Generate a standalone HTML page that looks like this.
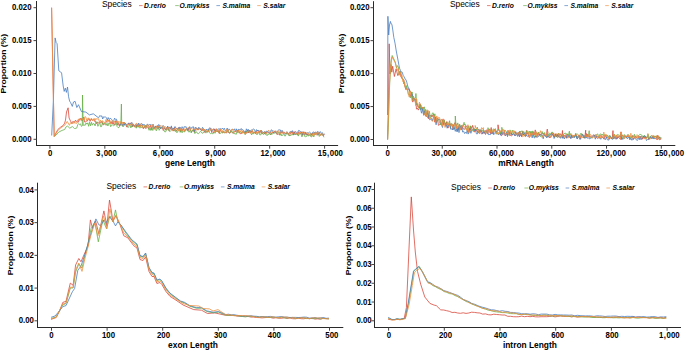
<!DOCTYPE html>
<html><head><meta charset="utf-8"><style>
html,body{margin:0;padding:0;background:#fff;}
body{width:685px;height:351px;overflow:hidden;}
svg{display:block;font-family:"Liberation Sans",sans-serif;}
</style></head><body>
<svg width="685" height="351" viewBox="0 0 685 351">
<rect width="685" height="351" fill="#fff"/>
<polyline points="51.6,7.7 54.2,136.4 57.8,129.5 60.8,127.0 63.0,125.7 64.7,123.1 65.5,120.1 66.5,112.0 68.1,107.8 69.1,118.0 70.0,120.0 70.9,121.8 71.8,123.6 72.7,121.5 73.7,121.8 74.6,122.2 75.5,120.1 76.4,121.5 77.3,121.8 78.2,122.4 79.2,118.8 80.1,119.6 81.0,118.0 81.9,120.9 82.8,120.0 83.7,117.2 84.6,121.9 85.6,122.1 86.5,120.9 87.4,121.0 88.3,119.1 89.2,118.6 90.1,121.4 91.0,119.2 92.0,119.9 92.9,120.3 93.8,119.4 94.7,121.5 95.6,121.5 96.5,123.6 97.5,122.1 98.4,122.8 99.3,122.2 100.2,123.1 101.1,122.1 102.0,121.2 102.9,124.6 103.9,124.6 104.8,123.8 105.7,123.1 106.6,121.2 107.5,120.8 108.4,121.0 109.3,120.0 110.3,123.3 111.2,121.7 112.1,124.0 113.0,121.9 113.9,124.8 114.8,124.5 115.8,120.5 116.7,121.7 117.6,125.2 118.5,123.4 119.4,126.2 120.3,123.7 121.2,122.3 122.2,125.0 123.1,125.8 124.0,123.5 124.9,122.7 125.8,124.0 126.7,127.1 127.6,126.2 128.6,123.2 129.5,123.9 130.4,123.3 131.3,123.2 132.2,126.8 133.1,124.0 134.1,125.9 135.0,125.4 135.9,124.3 136.8,127.0 137.7,124.2 138.6,126.8 139.5,124.3 140.5,125.9 141.4,124.9 142.3,125.3 143.2,128.7 144.1,128.0 145.0,125.7 145.9,128.6 146.9,125.4 147.8,126.4 148.7,128.7 149.6,127.7 150.5,125.2 151.4,129.6 152.4,125.9 153.3,126.2 154.2,128.8 155.1,126.7 156.0,126.7 156.9,125.7 157.8,125.8 158.8,128.3 159.7,126.7 160.6,128.5 161.5,127.5 162.4,128.0 163.3,130.5 164.2,128.2 165.2,128.7 166.1,130.2 167.0,127.0 167.9,126.9 168.8,130.6 169.7,130.3 170.7,127.6 171.6,127.4 172.5,130.1 173.4,131.1 174.3,127.6 175.2,131.3 176.1,131.0 177.1,129.8 178.0,129.0 178.9,127.5 179.8,127.3 180.7,131.8 181.6,128.3 182.5,130.6 183.5,128.5 184.4,131.3 185.3,130.2 186.2,128.8 187.1,128.3 188.0,131.0 188.9,127.9 189.9,128.7 190.8,130.3 191.7,131.8 192.6,130.7 193.5,129.1 194.4,132.2 195.4,128.8 196.3,128.0 197.2,129.3 198.1,130.1 199.0,128.3 199.9,128.9 200.8,130.0 201.8,130.9 202.7,129.0 203.6,130.0 204.5,132.3 205.4,132.7 206.3,131.3 207.2,131.5 208.2,131.1 209.1,129.3 210.0,128.8 210.9,128.8 211.8,132.6 212.7,131.7 213.7,132.9 214.6,128.9 215.5,131.5 216.4,130.9 217.3,132.0 218.2,130.3 219.1,133.2 220.1,129.3 221.0,131.3 221.9,132.2 222.8,132.9 223.7,132.2 224.6,132.1 225.5,132.5 226.5,133.0 227.4,130.7 228.3,132.1 229.2,133.1 230.1,133.0 231.0,131.1 232.0,132.7 232.9,133.0 233.8,131.8 234.7,132.1 235.6,131.1 236.5,131.9 237.4,132.1 238.4,129.9 239.3,132.3 240.2,133.8 241.1,133.3 242.0,132.7 242.9,131.3 243.8,132.8 244.8,132.2 245.7,131.6 246.6,133.3 247.5,130.2 248.4,133.0 249.3,130.0 250.3,132.5 251.2,132.0 252.1,131.0 253.0,132.9 253.9,132.1 254.8,132.7 255.7,134.0 256.7,131.2 257.6,130.2 258.5,131.5 259.4,133.1 260.3,131.1 261.2,131.0 262.1,134.1 263.1,133.1 264.0,132.2 264.9,134.1 265.8,131.8 266.7,133.3 267.6,131.3 268.6,132.3 269.5,133.9 270.4,134.4 271.3,134.3 272.2,132.3 273.1,133.1 274.0,132.1 275.0,131.3 275.9,132.9 276.8,134.3 277.7,134.4 278.6,133.9 279.5,134.9 280.4,132.1 281.4,131.7 282.3,132.9 283.2,132.2 284.1,132.0 285.0,132.9 285.9,133.8 286.9,133.3 287.8,132.6 288.7,134.8 289.6,135.4 290.5,133.2 291.4,131.7 292.3,131.5 293.3,135.1 294.2,131.6 295.1,134.5 296.0,133.9 296.9,132.9 297.8,134.9 298.8,131.7 299.7,132.2 300.6,133.6 301.5,131.8 302.4,135.3 303.3,132.8 304.2,132.4 305.2,132.1 306.1,134.6 307.0,133.8 307.9,134.6 308.8,134.8 309.7,135.4 310.6,136.1 311.6,135.0 312.5,133.0 313.4,134.2 314.3,133.0 315.2,132.3 316.1,134.3 317.1,135.3 318.0,133.1 318.9,133.5 319.8,133.9 320.7,135.4 321.6,134.7 322.5,135.1 323.5,135.7 324.4,134.2" fill="none" stroke="#D8493C" stroke-width="0.8" stroke-linejoin="round"/>
<polyline points="54.2,136.4 56.1,135.1 58.7,132.1 62.1,130.4 64.7,129.5 65.9,127.0 67.6,126.1 69.8,128.2 72.4,126.5 74.5,128.7 75.0,128.2 75.9,128.5 76.8,127.9 77.7,124.8 78.7,123.6 79.6,124.7 80.5,123.9 81.4,126.4 82.3,125.8 82.5,95.0 83.2,125.3 84.2,125.0 85.1,125.4 86.0,122.9 86.9,124.2 87.8,122.8 88.7,126.3 89.6,122.2 90.6,125.8 91.5,122.3 92.4,125.2 93.3,123.5 94.2,123.8 95.1,125.9 96.0,122.0 97.0,122.2 97.9,126.3 98.8,124.3 99.7,122.3 100.6,126.7 101.5,126.6 102.5,122.7 103.4,124.2 104.3,122.9 105.2,123.9 106.1,125.4 107.0,123.3 107.9,126.0 108.9,122.9 109.8,123.6 110.7,126.7 111.6,124.8 112.5,124.9 113.4,125.7 114.3,125.2 115.3,124.8 116.2,123.1 117.1,126.5 118.0,127.6 118.9,127.6 119.8,126.1 120.8,124.7 121.4,104.0 121.7,124.8 122.6,126.5 123.5,126.5 124.4,123.9 125.3,124.6 126.2,125.3 127.2,126.1 128.1,127.6 129.0,126.2 129.9,124.0 130.8,127.9 131.7,126.1 132.6,126.7 133.6,125.3 134.5,126.4 135.4,126.3 136.3,128.2 137.2,125.1 138.1,127.4 139.1,125.7 140.0,128.2 140.9,125.2 141.8,126.4 142.7,126.8 143.6,128.3 144.5,125.6 145.5,127.6 146.4,126.5 147.3,126.9 148.2,127.9 149.1,130.3 150.0,128.1 150.9,130.5 151.9,126.8 152.8,130.5 153.7,127.9 154.6,127.1 155.5,129.9 156.4,130.8 157.4,126.5 158.3,127.8 159.2,130.3 160.1,128.3 161.0,127.9 161.9,126.9 162.8,127.1 163.8,130.0 164.7,131.8 165.6,131.9 166.5,129.6 167.4,127.4 168.3,128.9 169.2,131.2 170.2,131.5 171.1,130.6 172.0,128.7 172.9,130.2 173.8,130.0 174.7,130.8 175.6,129.1 176.6,132.5 177.5,132.3 178.4,128.9 179.3,129.5 180.2,132.4 181.1,129.6 182.1,132.8 183.0,130.8 183.9,131.7 184.8,131.8 185.7,129.5 186.6,129.9 187.5,129.8 188.5,131.9 189.4,132.0 190.3,129.3 191.2,133.0 192.1,130.8 193.0,130.0 193.9,131.0 194.9,133.6 195.8,131.7 196.7,132.0 197.6,133.5 198.5,133.7 199.4,132.8 200.4,131.3 201.3,132.0 202.2,133.3 203.1,132.9 204.0,132.1 204.9,131.1 205.8,131.2 206.8,132.8 207.7,132.1 208.6,129.8 209.5,132.8 210.4,133.6 211.3,133.2 212.2,133.6 213.2,133.7 214.1,132.2 215.0,133.3 215.9,131.6 216.8,130.4 217.7,131.5 218.7,131.4 219.6,134.0 220.5,133.0 221.4,132.4 222.3,132.8 223.2,130.7 224.1,132.5 225.1,133.2 226.0,131.9 226.9,131.3 227.8,132.0 228.7,131.7 229.6,133.3 230.5,131.0 231.5,130.8 232.4,131.8 233.3,133.4 234.2,133.7 235.1,133.3 236.0,134.5 237.0,132.1 237.9,130.8 238.8,132.7 239.7,132.6 240.6,131.5 241.5,133.6 242.4,132.2 243.4,131.8 244.3,132.2 245.2,134.8 246.1,130.9 247.0,132.4 247.9,132.1 248.8,131.8 249.8,132.8 250.7,132.0 251.6,134.9 252.5,133.2 253.4,134.1 254.3,131.8 255.3,133.1 256.2,133.8 257.1,134.8 258.0,132.3 258.9,133.2 259.8,134.9 260.7,134.9 261.7,132.3 262.6,133.7 263.5,134.6 264.4,133.1 265.3,134.3 266.2,134.3 267.1,135.7 268.1,133.9 269.0,134.5 269.9,133.2 270.8,134.8 271.7,133.1 272.6,133.9 273.6,133.3 274.5,133.1 275.4,132.5 276.3,132.9 277.2,134.2 278.1,133.0 279.0,132.2 280.0,135.4 280.9,133.3 281.8,136.0 282.7,134.7 283.6,133.8 284.5,135.9 285.4,136.0 286.4,133.6 287.3,132.8 288.2,135.0 289.1,135.9 290.0,135.0 290.9,135.7 291.9,134.2 292.8,135.1 293.7,133.7 294.6,134.3 295.5,134.2 296.4,134.3 297.3,134.4 298.3,136.1 299.2,133.5 300.1,133.7 301.0,133.9 301.9,136.9 302.8,135.1 303.8,133.1 304.7,136.5 305.6,136.7 306.5,136.5 307.4,134.6 308.3,136.2 309.2,134.4 310.2,133.7 311.1,136.8 312.0,136.7 312.9,134.2 313.8,137.0 314.7,133.4 315.6,134.7 316.6,133.5 317.5,134.2 318.4,134.2 319.3,136.5 320.2,134.8 321.1,134.4 322.1,134.4 323.0,134.9 323.9,137.3" fill="none" stroke="#66B046" stroke-width="0.8" stroke-linejoin="round"/>
<polyline points="51.7,135.5 53.4,100.0 55.1,37.9 56.2,42.7 57.1,43.7 58.8,70.8 60.6,71.9 61.6,73.0 63.2,86.0 64.2,91.4 65.3,88.1 66.4,92.4 67.5,87.0 68.6,96.8 69.6,101.1 70.5,102.4 72.3,106.4 73.5,102.0 75.1,101.3 76.8,107.5 78.5,104.7 81.4,111.5 85.9,112.1 89.4,114.9 93.3,113.8 98.5,117.8 100.0,115.4 100.9,116.6 101.8,115.8 102.7,119.0 103.7,116.7 104.6,117.1 105.5,117.0 106.4,117.6 107.3,120.2 108.2,117.5 109.2,119.6 110.1,118.2 111.0,118.8 111.9,119.6 112.8,121.7 113.7,120.8 114.6,118.1 115.6,119.5 116.5,119.2 117.4,123.1 118.3,123.2 119.2,123.9 120.1,124.6 121.0,124.3 122.0,125.4 122.9,124.7 123.8,122.2 124.7,125.2 125.6,123.5 126.5,124.9 127.5,124.1 128.4,123.5 129.3,123.3 130.2,123.7 131.1,123.2 132.0,122.4 132.9,125.8 133.9,125.8 134.8,126.8 135.7,125.5 136.6,124.9 137.5,125.9 138.4,123.1 139.3,125.8 140.3,124.8 141.2,123.6 142.1,123.8 143.0,125.4 143.9,124.2 144.8,125.2 145.8,126.0 146.7,125.1 147.6,123.9 148.5,125.7 149.4,124.6 150.3,124.7 151.2,124.5 152.2,125.5 153.1,124.1 154.0,127.0 154.9,128.5 155.8,125.9 156.7,127.6 157.6,128.7 158.6,124.5 159.5,125.0 160.4,128.3 161.3,128.5 162.2,127.6 163.1,125.4 164.0,126.7 165.0,128.9 165.9,129.1 166.8,128.8 167.7,126.0 168.6,129.1 169.5,126.9 170.5,128.6 171.4,125.9 172.3,130.0 173.2,128.3 174.1,128.9 175.0,126.5 175.9,128.6 176.9,128.5 177.8,128.6 178.7,127.5 179.6,129.4 180.5,127.6 181.4,127.4 182.3,126.8 183.3,129.3 184.2,126.6 185.1,127.2 186.0,126.5 186.9,129.3 187.8,129.0 188.8,128.9 189.7,126.6 190.6,128.5 191.5,128.1 192.4,127.0 193.3,126.6 194.2,131.4 195.2,127.2 196.1,128.2 197.0,128.0 197.9,129.7 198.8,127.2 199.7,129.1 200.6,128.8 201.6,130.8 202.5,127.3 203.4,128.7 204.3,129.4 205.2,131.4 206.1,129.6 207.1,129.4 208.0,130.3 208.9,128.7 209.8,127.6 210.7,129.6 211.6,131.4 212.5,130.7 213.5,128.7 214.4,130.5 215.3,131.2 216.2,128.8 217.1,130.2 218.0,129.2 218.9,128.8 219.9,129.0 220.8,128.7 221.7,129.3 222.6,128.0 223.5,129.6 224.4,128.3 225.4,131.1 226.3,130.5 227.2,128.0 228.1,131.3 229.0,128.9 229.9,130.1 230.8,130.5 231.8,129.6 232.7,129.4 233.6,130.0 234.5,128.8 235.4,131.9 236.3,128.8 237.2,131.8 238.2,129.3 239.1,129.6 240.0,130.0 240.9,128.6 241.8,129.0 242.7,130.0 243.7,130.4 244.6,132.2 245.5,132.7 246.4,128.8 247.3,130.9 248.2,129.2 249.1,132.1 250.1,130.1 251.0,132.5 251.9,131.1 252.8,129.3 253.7,128.9 254.6,129.9 255.5,132.5 256.5,129.6 257.4,131.0 258.3,130.5 259.2,130.5 260.1,132.4 261.0,130.0 262.0,132.1 262.9,131.9 263.8,133.1 264.7,131.4 265.6,133.1 266.5,131.1 267.4,131.7 268.4,131.9 269.3,132.9 270.2,133.2 271.1,129.9 272.0,130.0 272.9,131.7 273.8,132.9 274.8,131.8 275.7,130.8 276.6,133.7 277.5,130.9 278.4,130.1 279.3,129.9 280.3,129.9 281.2,132.8 282.1,130.3 283.0,132.9 283.9,133.5 284.8,134.1 285.7,133.4 286.7,131.8 287.6,132.6 288.5,133.6 289.4,133.1 290.3,131.3 291.2,133.4 292.1,130.7 293.1,131.5 294.0,134.4 294.9,132.3 295.8,131.5 296.7,133.7 297.6,132.3 298.6,130.4 299.5,130.6 300.4,131.6 301.3,131.9 302.2,134.5 303.1,131.6 304.0,134.2 305.0,134.3 305.9,132.5 306.8,134.9 307.7,134.0 308.6,132.8 309.5,131.9 310.5,132.8 311.4,134.7 312.3,133.2 313.2,131.8 314.1,132.6 315.0,133.0 315.9,131.9 316.9,133.5 317.8,131.3 318.7,134.6 319.6,132.0 320.5,131.7 321.4,133.8 322.3,132.6 323.3,135.1 324.2,133.5" fill="none" stroke="#4A7DBF" stroke-width="0.8" stroke-linejoin="round"/>
<polyline points="51.6,7.7 54.2,136.4 57.8,130.8 60.8,127.8 63.4,126.1 65.5,124.4 67.2,121.4 69.4,125.3 70.6,122.7 73.2,123.5 74.0,121.1 74.9,123.5 75.8,122.7 76.7,123.5 77.7,119.8 78.6,119.2 79.5,120.9 80.4,120.2 81.3,118.2 82.2,119.8 83.2,118.2 84.1,119.9 85.0,116.5 85.9,117.2 86.8,120.7 87.7,118.3 88.6,118.0 89.6,120.9 90.5,120.2 91.4,118.0 92.3,120.0 93.2,120.6 94.1,118.3 95.0,120.8 96.0,118.3 96.9,119.5 97.8,118.4 98.7,119.0 99.6,122.9 100.5,120.2 101.5,123.1 102.4,120.6 103.3,121.5 104.2,122.9 105.1,122.1 106.0,119.5 106.9,121.9 107.9,122.2 108.8,120.1 109.7,119.8 110.6,123.7 111.5,122.1 112.4,120.6 113.3,122.0 114.3,121.0 115.2,123.9 116.1,122.6 117.0,120.8 117.9,124.3 118.8,121.2 119.8,122.5 120.7,121.5 121.6,125.0 122.5,122.1 123.4,124.2 124.3,122.2 125.2,124.1 126.2,125.2 127.1,124.6 128.0,124.3 128.9,124.5 129.8,124.4 130.7,125.2 131.6,122.9 132.6,124.8 133.5,123.8 134.4,126.9 135.3,127.3 136.2,123.2 137.1,123.7 138.1,126.5 139.0,125.9 139.9,123.4 140.8,126.8 141.7,128.0 142.6,125.6 143.5,125.3 144.5,126.4 145.4,128.3 146.3,125.1 147.2,125.4 148.1,124.9 149.0,127.1 149.9,126.4 150.9,125.5 151.8,126.2 152.7,124.6 153.6,126.0 154.5,129.3 155.4,127.5 156.4,126.1 157.3,129.3 158.2,126.7 159.1,126.2 160.0,125.3 160.9,125.9 161.8,126.2 162.8,126.4 163.7,129.6 164.6,126.7 165.5,126.7 166.4,128.5 167.3,130.1 168.2,127.1 169.2,129.4 170.1,127.6 171.0,128.6 171.9,128.9 172.8,130.6 173.7,129.8 174.6,128.6 175.6,130.3 176.5,128.1 177.4,128.2 178.3,131.1 179.2,129.2 180.1,130.3 181.1,128.2 182.0,131.1 182.9,129.7 183.8,128.0 184.7,131.3 185.6,129.1 186.5,128.6 187.5,128.2 188.4,127.5 189.3,128.0 190.2,130.4 191.1,127.8 192.0,128.4 192.9,129.4 193.9,129.9 194.8,129.2 195.7,131.2 196.6,128.7 197.5,129.2 198.4,129.6 199.4,128.2 200.3,128.8 201.2,128.6 202.1,131.0 203.0,128.6 203.9,130.8 204.8,129.0 205.8,130.8 206.7,130.9 207.6,129.6 208.5,132.1 209.4,130.9 210.3,130.6 211.2,128.4 212.2,130.0 213.1,129.4 214.0,130.3 214.9,132.3 215.8,132.0 216.7,128.7 217.7,131.3 218.6,132.4 219.5,130.8 220.4,128.9 221.3,132.2 222.2,130.4 223.1,132.7 224.1,132.3 225.0,132.1 225.9,132.6 226.8,129.0 227.7,132.1 228.6,130.0 229.5,129.4 230.5,130.4 231.4,131.3 232.3,128.9 233.2,130.8 234.1,132.2 235.0,131.0 236.0,131.2 236.9,130.3 237.8,133.1 238.7,130.1 239.6,131.9 240.5,131.8 241.4,129.1 242.4,133.4 243.3,130.2 244.2,133.4 245.1,133.2 246.0,133.1 246.9,132.9 247.8,131.0 248.8,131.3 249.7,130.9 250.6,133.4 251.5,129.6 252.4,130.1 253.3,133.5 254.3,132.9 255.2,132.6 256.1,133.7 257.0,131.8 257.9,133.2 258.8,131.6 259.7,133.5 260.7,130.1 261.6,131.6 262.5,132.2 263.4,133.2 264.3,131.7 265.2,132.8 266.1,134.0 267.1,131.7 268.0,130.8 268.9,130.2 269.8,133.7 270.7,132.1 271.6,131.8 272.6,132.4 273.5,130.7 274.4,131.2 275.3,131.3 276.2,131.4 277.1,134.0 278.0,131.4 279.0,130.8 279.9,134.1 280.8,132.8 281.7,130.6 282.6,133.4 283.5,133.5 284.4,133.3 285.4,133.9 286.3,132.5 287.2,131.7 288.1,133.9 289.0,133.4 289.9,133.8 290.9,131.6 291.8,132.4 292.7,133.8 293.6,132.6 294.5,133.5 295.4,133.0 296.3,134.2 297.3,132.5 298.2,133.2 299.1,134.6 300.0,132.5 300.9,132.0 301.8,133.9 302.8,131.8 303.7,134.9 304.6,132.5 305.5,135.2 306.4,133.7 307.3,132.1 308.2,133.7 309.2,134.4 310.1,133.6 311.0,134.3 311.9,133.2 312.8,135.7 313.7,132.4 314.6,135.1 315.6,131.9 316.5,133.9 317.4,132.1 318.3,132.4 319.2,134.4 320.1,135.7 321.1,133.3 322.0,133.7 322.9,134.0 323.8,134.6" fill="none" stroke="#F0913E" stroke-width="0.8" stroke-linejoin="round"/>
<polyline points="387.6,139.5 388.5,100.0 389.2,43.8 390.0,74.0 391.0,64.5 391.8,72.2 392.7,66.2 394.4,76.5 396.1,68.8 397.8,75.6 399.5,72.2 400.0,71.3 400.9,76.5 401.8,78.2 402.7,79.4 403.7,79.8 404.6,85.3 405.5,88.5 406.4,87.8 407.3,89.8 408.2,89.3 409.2,88.7 410.1,93.7 411.0,97.3 411.9,94.2 412.8,102.1 413.7,98.3 414.6,99.6 415.6,99.1 416.5,109.2 417.4,108.1 418.3,110.1 419.2,108.5 420.1,103.9 421.0,107.4 422.0,109.7 422.9,107.0 423.8,115.4 424.7,110.8 425.6,109.6 426.5,116.5 427.5,110.8 428.4,118.7 429.3,114.9 430.2,116.4 431.1,115.1 432.0,117.0 432.9,114.8 433.9,114.0 434.8,122.2 435.7,117.0 436.6,122.6 437.5,117.9 438.4,125.3 439.3,125.0 440.3,124.0 441.2,124.4 442.1,123.1 442.7,119.5 443.0,124.8 443.9,119.5 444.8,123.1 445.8,126.3 446.7,121.6 447.6,127.7 448.5,127.7 449.4,124.2 450.3,124.0 451.2,125.0 452.2,124.7 453.1,129.8 454.0,125.1 454.9,122.5 455.8,123.3 456.7,128.5 457.6,130.9 458.6,127.2 459.5,127.4 460.4,128.1 461.3,129.9 462.2,125.8 463.1,129.1 464.1,128.8 465.0,129.5 465.9,126.1 466.8,126.1 467.7,127.7 468.6,132.5 469.5,128.0 470.5,129.9 470.7,126.3 471.4,128.3 472.3,127.2 472.6,125.4 473.2,127.1 474.1,131.8 475.0,131.7 475.9,129.4 476.9,131.4 477.8,131.5 478.7,133.0 479.6,133.5 480.5,130.3 481.4,133.9 482.4,133.8 483.3,131.6 484.2,133.5 485.1,131.2 486.0,130.6 486.9,129.9 487.8,133.8 488.8,129.6 489.7,129.1 490.6,133.6 491.2,127.5 491.5,133.5 492.4,131.8 493.3,134.0 494.2,129.4 495.2,130.7 496.1,131.0 497.0,131.9 497.9,130.5 498.0,124.8 498.8,130.0 499.7,131.6 500.7,135.1 501.6,135.7 502.5,134.3 503.4,132.8 504.3,131.6 505.2,135.9 506.1,133.4 507.1,134.7 508.0,130.5 508.9,131.7 509.8,135.6 510.7,135.4 511.6,136.0 512.5,134.3 513.5,133.3 514.4,134.3 515.3,136.0 516.2,132.8 517.1,134.2 518.0,132.7 519.0,135.7 519.9,131.2 520.8,135.3 521.7,136.9 522.6,131.4 523.5,134.9 524.4,135.2 525.4,136.5 526.3,135.0 526.8,130.3 527.2,133.1 528.1,134.0 529.0,137.4 529.9,137.1 530.8,132.5 531.8,132.3 532.7,132.4 533.6,132.0 534.5,134.6 535.3,129.9 535.4,132.8 536.3,137.2 537.3,136.0 538.2,132.9 539.1,135.4 540.0,134.1 540.9,135.2 541.8,133.6 542.7,133.3 543.7,133.4 544.6,134.6 545.5,136.6 546.4,135.7 547.3,129.1 547.3,132.7 548.2,136.7 549.1,137.7 550.1,137.2 551.0,137.3 551.9,132.6 552.8,135.4 553.7,133.0 554.6,137.3 555.6,133.7 556.5,137.0 557.4,134.3 558.3,137.0 559.2,134.7 560.1,133.6 561.0,135.3 562.0,135.0 562.5,130.5 562.9,137.9 563.8,135.0 564.7,136.0 565.6,136.3 566.5,138.2 567.4,134.1 568.4,136.6 569.3,136.1 570.2,137.3 571.1,138.4 572.0,135.3 572.9,137.2 573.9,136.4 574.8,136.5 575.7,134.2 576.6,137.8 577.5,138.6 578.4,135.7 579.3,135.5 580.3,138.8 581.2,134.5 582.1,134.4 583.0,134.4 583.9,138.0 584.8,137.8 585.7,130.2 585.7,136.3 586.3,133.5 586.7,137.1 587.6,134.3 588.5,137.3 589.4,136.4 590.3,136.7 591.2,136.1 592.1,136.2 593.1,135.4 594.0,134.6 594.9,136.5 595.8,135.6 596.7,137.8 597.6,138.4 598.6,137.9 599.5,136.7 600.4,135.6 601.3,136.4 602.2,136.9 603.1,137.6 604.0,139.2 605.0,135.0 605.9,136.9 606.8,137.0 607.7,138.1 608.6,138.9 609.5,138.4 610.4,137.7 611.4,138.3 612.3,137.9 613.0,130.6 613.2,138.8 614.1,138.1 615.0,138.0 615.9,135.9 616.9,139.1 617.8,136.6 618.7,137.7 619.6,138.7 620.5,139.4 621.0,131.8 621.4,139.6 622.3,134.9 623.3,136.3 624.2,136.4 625.1,136.7 626.0,135.6 626.9,137.6 627.8,135.3 628.7,136.4 629.7,139.5 630.6,138.5 631.5,137.2 632.4,135.5 633.3,139.6 634.2,138.4 635.2,136.0 636.1,136.6 637.0,138.1 637.9,138.3 638.8,136.3 639.7,139.7 640.6,136.6 641.6,136.3 642.5,139.2 643.4,135.9 644.3,138.4 645.2,136.1 646.1,138.0 647.0,136.5 648.0,137.0 648.9,139.7 649.8,137.5 650.7,137.3 651.6,138.2 652.5,136.6 653.5,136.1 654.4,137.1 655.3,136.6 656.2,136.2 657.1,140.0 658.0,135.5 658.9,139.3 659.9,139.9 660.8,138.8" fill="none" stroke="#D8493C" stroke-width="0.8" stroke-linejoin="round"/>
<polyline points="387.6,139.5 388.5,120.0 389.4,90.0 390.3,72.0 391.2,60.0 392.2,55.5 395.3,62.0 396.5,68.0 397.4,65.6 398.3,67.0 399.2,74.6 400.2,71.5 401.1,73.2 402.0,78.4 402.9,78.6 403.8,84.0 404.7,81.9 405.7,89.6 406.6,85.6 407.5,89.9 408.4,94.5 409.3,93.9 410.2,97.6 411.1,97.0 412.1,92.0 413.0,100.8 413.9,99.3 414.8,97.8 415.7,97.8 415.9,93.5 416.6,105.0 417.5,103.6 418.5,108.0 419.4,107.2 420.1,104.2 420.3,109.7 421.2,106.8 422.1,108.7 423.0,108.9 424.0,106.9 424.5,107.1 424.9,114.5 425.8,109.8 426.7,115.3 427.6,117.6 428.5,115.4 429.4,111.3 430.4,118.2 431.3,117.3 432.2,113.4 433.1,112.8 434.0,117.8 434.9,113.8 435.8,122.6 436.8,119.3 437.7,120.0 438.6,119.3 439.5,122.0 440.4,124.7 441.3,119.4 442.3,120.3 443.2,122.6 444.1,120.3 445.0,123.4 445.9,123.1 446.8,122.6 447.7,124.8 448.7,124.0 449.6,120.7 450.5,128.2 451.4,123.3 452.3,124.2 453.2,124.2 454.1,128.6 455.1,129.0 455.3,116.0 456.0,125.8 456.9,125.1 457.8,122.9 458.7,129.5 459.6,124.0 460.6,127.2 461.5,125.8 462.4,125.8 463.3,126.2 464.1,122.3 464.2,125.0 465.1,123.9 466.0,128.0 467.0,130.3 467.9,129.2 468.8,125.8 469.7,129.9 470.6,125.8 471.5,128.1 472.4,130.7 473.4,131.4 474.3,128.8 475.2,131.2 476.1,129.3 477.0,129.6 477.3,127.1 477.9,130.1 478.9,132.7 479.8,131.3 480.7,129.8 481.6,131.4 482.5,131.0 483.4,129.3 484.3,132.0 485.3,132.3 486.2,131.1 487.1,133.2 488.0,127.7 488.9,130.7 489.8,131.6 490.7,129.9 491.7,129.0 492.6,132.2 493.5,130.7 494.4,129.8 495.3,128.6 496.2,134.2 497.2,130.6 498.1,129.3 499.0,129.9 499.9,130.3 500.8,134.0 501.7,130.0 501.8,127.3 502.6,130.6 503.6,129.7 504.5,132.0 505.4,130.5 506.3,131.4 507.2,133.8 508.1,135.0 509.0,134.6 510.0,129.9 510.9,132.0 511.8,134.9 512.7,130.0 513.6,131.1 514.5,132.9 515.5,132.3 516.4,134.5 517.3,134.4 518.2,132.9 519.1,131.7 520.0,131.6 520.9,131.9 521.9,130.7 522.8,134.4 523.7,131.4 524.6,135.8 525.5,134.4 526.4,130.9 527.3,133.6 528.3,134.3 529.2,131.0 530.1,133.7 531.0,131.0 531.9,135.5 532.8,130.9 533.8,134.8 534.7,136.9 535.6,136.1 536.5,132.5 537.4,134.4 538.3,132.0 539.2,133.3 540.2,136.5 541.1,136.2 542.0,131.4 542.9,133.7 543.8,135.3 544.7,132.5 545.6,136.3 546.6,136.9 547.5,134.8 548.4,133.7 549.3,136.7 550.2,134.7 551.1,132.8 552.1,133.4 552.3,131.9 553.0,132.7 553.9,136.8 554.8,134.8 555.7,136.0 556.6,136.7 557.5,137.7 558.5,133.0 559.4,134.4 560.3,136.7 561.2,136.2 562.1,134.5 563.0,135.8 563.9,133.6 564.9,133.5 565.8,133.0 566.7,134.6 567.6,133.9 568.5,135.3 569.4,131.2 569.4,137.5 570.4,133.6 571.3,135.5 572.2,137.0 573.1,135.8 574.0,135.5 574.9,136.6 575.8,133.1 576.8,137.6 577.7,136.3 578.6,136.9 579.5,137.0 580.4,133.6 581.3,133.4 582.2,134.0 583.2,135.6 584.1,137.7 585.0,137.6 585.9,135.2 586.8,136.2 587.7,136.8 588.6,134.9 589.2,130.7 589.6,138.0 590.5,137.9 591.4,136.9 592.3,137.7 593.2,137.3 594.1,136.6 595.1,135.0 596.0,134.8 596.9,134.7 597.8,133.8 598.7,138.0 599.6,135.0 600.5,133.7 601.5,135.1 602.4,134.1 603.3,135.8 604.2,135.3 605.1,134.5 606.0,136.0 606.9,135.7 607.9,135.4 608.8,137.6 609.7,135.2 610.6,136.4 611.5,138.0 612.4,138.4 613.4,135.6 614.3,134.0 615.2,138.4 616.1,136.3 617.0,134.9 617.9,134.5 618.8,135.0 619.8,135.4 620.7,134.6 621.6,134.2 622.5,138.7 623.4,137.9 624.3,134.5 625.2,136.3 626.2,137.8 627.1,136.4 628.0,134.3 628.9,135.7 629.8,135.9 630.7,138.4 631.7,136.9 632.6,136.3 633.5,137.1 634.4,134.3 635.3,137.4 636.2,138.0 637.1,137.4 638.1,135.9 639.0,135.5 639.9,134.2 640.8,134.6 641.7,135.0 642.6,136.4 643.5,138.0 644.5,135.3 645.4,136.5 646.3,137.3 647.2,137.3 648.1,134.4 649.0,138.7 650.0,137.1 650.9,135.8 651.8,135.5 652.7,137.7 653.6,138.9 654.5,136.0 655.4,136.3 656.4,137.1 657.3,135.3 658.2,136.4 659.1,138.9 660.0,137.2 660.9,138.4" fill="none" stroke="#66B046" stroke-width="0.8" stroke-linejoin="round"/>
<polyline points="387.6,115.0 387.9,16.3 388.7,35.0 389.5,25.0 390.4,21.4 391.2,24.0 391.9,24.3 392.8,30.0 393.8,37.4 395.0,43.1 396.1,50.0 399.5,68.2 400.4,70.3 401.3,72.1 402.2,72.1 403.2,75.4 404.1,76.8 405.0,78.9 405.9,79.6 406.8,82.2 407.7,86.0 408.7,88.6 409.6,91.0 410.5,91.2 411.4,92.6 412.3,95.5 413.2,96.1 414.1,98.6 415.1,101.4 416.0,102.8 416.9,103.8 417.8,106.4 418.7,106.6 419.6,107.5 420.5,108.9 421.5,113.2 422.4,108.8 423.3,113.7 424.2,111.3 425.1,114.4 426.0,116.5 427.0,114.4 427.9,112.9 428.8,117.0 429.7,119.8 430.6,119.3 431.5,118.5 432.4,120.9 433.4,117.2 434.3,117.8 435.2,119.7 436.1,124.8 437.0,119.7 437.9,119.5 438.8,119.6 439.8,119.4 440.7,121.9 441.6,124.9 442.5,127.5 443.4,123.2 444.3,123.9 445.3,123.7 446.2,124.1 447.1,128.2 448.0,126.7 448.9,124.6 449.8,123.6 450.7,129.2 451.7,128.8 452.6,130.0 453.5,125.5 454.4,128.1 455.3,131.3 456.2,128.9 457.1,132.0 458.1,125.9 459.0,132.6 459.9,125.5 460.8,128.5 461.7,125.6 462.6,132.0 463.6,131.1 464.5,133.5 465.4,132.3 466.3,133.5 467.2,130.3 468.1,134.1 469.0,132.3 470.0,129.1 470.9,133.3 471.8,129.9 472.7,128.9 473.6,128.3 474.5,130.7 475.4,129.2 476.4,133.8 477.3,134.0 478.2,129.7 479.1,129.1 480.0,131.8 480.9,129.7 481.9,132.0 482.8,133.7 483.7,130.4 484.6,131.5 485.5,134.5 486.4,131.8 487.3,131.3 488.3,134.7 489.2,134.3 490.1,134.9 491.0,133.7 491.9,132.1 492.8,133.9 493.7,134.8 494.7,133.7 495.6,131.4 496.5,131.8 497.4,132.6 498.3,134.9 499.2,133.7 500.2,133.7 501.1,135.4 502.0,131.2 502.9,134.4 503.8,132.7 504.7,134.2 505.6,135.9 506.6,132.4 507.5,136.7 508.4,131.6 509.3,134.6 510.2,134.5 511.1,132.7 512.0,134.8 513.0,134.3 513.9,134.2 514.8,135.8 515.7,131.6 516.6,133.9 517.5,136.4 518.5,132.6 519.4,137.0 520.3,133.1 521.2,136.0 522.1,133.0 523.0,134.7 523.9,134.6 524.9,132.6 525.8,136.3 526.7,135.1 527.6,136.4 528.5,135.5 529.4,135.7 530.3,135.5 531.3,134.2 532.2,137.9 533.1,133.0 534.0,137.8 534.9,137.8 535.8,135.7 536.8,137.4 537.7,136.8 538.6,136.5 539.5,134.6 540.4,134.8 541.3,135.0 542.2,134.8 543.2,138.8 544.1,135.1 545.0,135.4 545.9,135.6 546.8,138.0 547.7,136.0 548.6,136.5 549.6,134.7 550.5,134.9 551.4,133.8 552.3,134.6 553.2,134.9 554.1,138.5 555.1,136.4 556.0,134.1 556.9,136.2 557.8,134.2 558.7,136.9 559.6,136.2 560.5,138.3 561.5,135.4 562.4,138.3 563.3,135.4 564.2,139.0 565.1,137.3 566.0,134.5 566.9,138.2 567.9,135.7 568.8,136.1 569.7,135.1 570.6,138.5 571.5,134.9 572.4,138.0 573.4,136.4 574.3,137.8 575.2,136.0 576.1,135.0 577.0,139.0 577.9,137.8 578.8,135.5 579.8,139.4 580.7,139.1 581.6,135.6 582.5,134.8 583.4,137.7 584.3,135.5 585.2,138.3 586.2,137.1 587.1,138.3 588.0,137.6 588.9,138.6 589.8,138.9 590.7,137.9 591.6,137.8 592.6,136.6 593.5,135.7 594.4,135.5 595.3,139.2 596.2,136.1 597.1,137.2 598.1,136.7 599.0,138.1 599.9,137.8 600.8,139.3 601.7,137.3 602.6,137.0 603.5,138.4 604.5,138.8 605.4,139.7 606.3,136.8 607.2,139.6 608.1,140.0 609.0,140.0 609.9,136.0 610.9,137.2 611.8,139.1 612.7,139.4 613.6,135.6 614.5,137.3 615.4,138.9 616.4,139.1 617.3,138.0 618.2,136.5 619.1,137.4 620.0,135.8 620.9,137.0 621.8,137.6 622.8,139.5 623.7,138.4 624.6,137.6 625.5,136.8 626.4,137.1 627.3,138.8 628.2,137.8 629.2,136.5 630.1,139.6 631.0,138.4 631.9,140.3 632.8,138.3 633.7,138.7 634.7,137.8 635.6,138.6 636.5,140.1 637.4,140.5 638.3,138.9 639.2,137.8 640.1,136.1 641.1,139.8 642.0,137.7 642.9,137.7 643.8,136.1 644.7,136.0 645.6,137.7 646.5,140.6 647.5,139.5 648.4,139.3 649.3,139.1 650.2,137.2 651.1,136.8 652.0,138.9 653.0,136.3 653.9,138.8 654.8,138.5 655.7,138.6 656.6,136.6 657.5,136.4 658.4,138.3 659.4,136.8 660.3,139.2 661.2,137.6" fill="none" stroke="#4A7DBF" stroke-width="0.8" stroke-linejoin="round"/>
<polyline points="387.6,139.5 388.5,115.0 389.4,85.0 390.3,70.0 391.2,62.0 392.2,57.0 395.3,63.0 396.5,67.4 397.4,70.5 398.3,68.6 399.2,75.3 400.2,72.2 401.1,77.0 402.0,75.6 402.9,81.6 403.8,79.9 404.7,85.2 405.7,87.9 406.6,90.1 407.5,89.0 408.4,94.5 409.3,97.2 410.2,90.8 411.1,95.8 412.1,101.1 413.0,100.2 413.9,98.7 414.8,98.5 415.7,105.6 416.6,98.7 417.5,106.0 418.5,107.8 419.4,102.2 420.3,104.5 421.2,105.1 422.1,108.0 423.0,107.3 424.0,113.3 424.9,114.8 425.8,110.3 426.7,116.8 427.6,109.9 428.5,110.7 429.4,116.5 430.4,118.3 431.3,119.1 432.2,121.3 433.1,120.6 434.0,115.7 434.9,120.7 435.8,123.0 436.8,115.9 437.7,120.2 438.6,117.4 439.5,117.6 440.4,121.0 441.3,123.1 442.3,126.3 443.2,118.8 444.1,122.6 445.0,127.5 445.9,125.3 446.8,123.8 447.7,121.8 448.7,125.2 449.6,122.5 450.5,125.8 451.4,126.1 452.3,124.3 453.2,127.7 454.1,124.8 455.1,125.6 456.0,128.7 456.9,124.3 457.8,124.0 458.7,127.4 459.6,126.5 460.6,130.2 461.5,125.4 462.4,126.6 463.3,124.2 464.2,127.5 465.1,126.5 466.0,127.7 467.0,130.4 467.9,124.7 468.8,132.5 469.7,130.4 470.6,130.7 471.5,129.2 472.4,129.6 473.4,128.7 474.3,128.8 475.2,127.9 475.2,125.5 476.1,128.5 477.0,128.6 477.9,129.0 478.9,132.6 479.8,132.1 480.7,131.2 481.6,127.6 482.5,129.1 483.4,127.6 483.4,130.9 484.3,131.9 485.3,130.3 486.2,131.7 487.1,133.4 488.0,129.6 488.9,130.4 489.8,132.8 490.7,130.2 491.7,132.7 492.6,130.8 493.5,128.7 494.4,131.4 495.3,129.1 496.2,133.5 497.2,133.9 498.1,132.1 499.0,134.4 499.9,130.4 500.8,131.9 501.7,130.4 502.6,129.7 503.6,134.4 504.5,129.9 505.4,135.2 506.3,133.1 507.2,134.0 508.1,130.2 509.0,135.4 510.0,134.8 510.9,130.7 511.8,131.3 512.7,131.1 513.6,133.3 514.5,130.8 515.5,135.2 516.4,133.4 517.3,134.7 518.2,132.0 519.1,134.5 520.0,133.3 520.9,134.6 521.9,133.2 522.8,136.7 523.7,135.9 524.6,135.9 525.5,133.0 526.4,132.1 527.3,131.9 528.3,131.9 529.2,136.9 530.1,132.9 531.0,136.4 531.9,132.7 532.8,135.0 533.8,132.9 534.7,133.3 535.6,135.9 536.0,131.4 536.5,135.2 537.4,137.2 538.3,133.0 539.2,133.3 540.2,132.1 540.4,130.7 541.1,133.0 542.0,137.6 542.9,135.2 543.8,134.7 544.7,133.9 545.6,136.4 546.6,136.0 547.5,132.9 548.4,132.2 549.3,133.0 550.2,136.9 551.1,136.5 552.1,133.4 553.0,133.5 553.9,134.0 554.8,136.2 555.7,136.7 556.6,133.7 557.5,134.2 558.5,133.7 559.4,138.0 560.3,135.6 561.2,137.5 562.1,134.2 563.0,136.1 563.9,135.8 564.9,137.6 565.8,134.9 566.7,134.2 567.6,137.1 568.5,137.8 569.4,135.7 570.4,134.8 571.3,133.7 572.2,135.4 573.1,137.7 574.0,135.0 574.9,135.5 575.8,136.1 576.8,134.5 577.7,133.9 578.6,135.9 579.5,138.1 580.4,137.7 581.3,135.0 582.2,137.3 583.2,137.6 584.1,136.4 585.0,135.3 585.9,134.6 586.8,137.0 587.7,137.0 588.6,134.7 589.6,134.4 590.5,134.3 591.4,137.8 592.3,138.1 593.2,136.3 594.1,136.8 595.1,137.3 596.0,134.6 596.9,136.4 597.8,136.1 598.7,138.1 599.6,134.8 600.5,138.1 601.5,134.7 602.4,137.0 603.3,138.3 603.8,132.1 604.2,134.4 605.1,136.4 606.0,134.1 606.9,136.5 607.9,136.4 608.8,138.7 609.7,136.5 610.6,138.5 611.5,137.7 612.4,138.2 613.4,135.9 614.3,134.7 615.2,137.3 616.1,134.8 617.0,137.3 617.9,135.1 618.8,137.2 619.8,138.0 620.7,138.9 620.9,132.1 621.6,135.3 622.5,135.2 623.4,136.4 624.3,139.0 625.2,135.6 626.2,136.7 627.1,136.2 628.0,134.7 628.9,137.0 629.8,135.9 630.7,136.7 630.8,133.3 631.7,138.0 632.6,137.7 633.5,135.7 634.4,137.6 635.3,137.1 636.2,138.2 637.1,134.6 638.1,135.9 639.0,137.8 639.9,137.3 640.8,137.0 641.7,137.2 642.6,137.6 643.5,138.2 644.5,138.7 645.4,138.4 646.3,139.0 647.2,137.5 647.9,133.5 648.1,135.5 649.0,136.5 650.0,138.9 650.9,138.5 651.8,137.7 652.7,135.4 653.6,135.6 654.5,138.0 655.4,136.8 656.4,135.7 657.3,139.5 658.2,136.0 659.1,139.3 660.0,137.9 660.9,139.5" fill="none" stroke="#F0913E" stroke-width="0.8" stroke-linejoin="round"/>
<polyline points="51.1,319.4 56.4,317.3 59.5,311.0 62.8,302.4 66.0,301.3 70.3,283.1 73.1,285.3 75.6,265.0 78.8,258.5 81.0,261.8 84.2,254.3 88.0,245.8 90.4,219.9 92.4,227.8 95.5,220.9 98.9,233.8 103.9,210.9 106.9,225.9 109.5,200.0 111.5,211.9 112.9,220.9 115.9,215.9 119.8,223.9 123.8,235.8 127.8,237.8 133.8,245.8 137.0,248.0 140.0,259.5 143.0,260.5 145.6,257.0 149.0,271.5 152.0,276.5 154.0,276.5 156.9,283.5 159.9,282.5 161.9,284.5 165.9,291.5 170.0,296.4 175.0,299.5 183.1,305.0 193.7,309.6 201.5,310.2 207.5,313.5 214.7,312.9 225.2,315.2 226.0,315.2 228.8,315.3 231.6,315.3 234.3,315.3 237.1,316.2 239.9,316.1 242.7,316.3 245.5,316.4 248.2,316.5 251.0,317.0 253.8,317.1 256.6,317.5 259.4,317.6 262.1,317.9 264.9,317.6 267.7,317.4 270.5,317.5 273.3,318.2 276.0,317.7 278.8,318.2 281.6,318.3 284.4,317.7 287.2,318.5 289.9,317.8 292.7,318.7 295.5,318.8 298.3,318.2 301.1,318.7 303.8,318.8 306.6,318.2 309.4,318.8 312.2,318.2 315.0,319.1 317.7,318.9 320.5,319.2 323.3,318.3 326.1,318.6 328.9,318.9" fill="none" stroke="#D8493C" stroke-width="0.8" stroke-linejoin="round"/>
<polyline points="51.1,318.5 56.0,317.0 62.8,305.0 66.0,303.5 70.3,288.0 73.1,288.0 75.6,272.0 78.8,264.0 82.0,268.0 85.3,254.0 88.0,244.0 91.0,228.8 94.9,221.9 98.3,241.8 102.9,219.9 106.5,228.8 109.9,215.9 112.9,221.9 115.5,209.9 117.8,221.9 120.8,225.0 125.8,233.0 131.8,240.5 137.0,245.0 140.0,256.1 143.0,257.1 145.6,253.6 149.0,268.1 152.0,273.1 154.0,273.6 156.9,280.6 159.9,279.6 161.9,281.6 165.9,288.6 170.0,293.7 175.3,297.7 180.5,301.6 184.5,302.9 189.7,306.2 196.3,308.2 201.5,308.2 206.8,311.5 213.4,312.8 218.6,312.1 225.2,315.0 226.0,315.1 228.8,315.4 231.6,315.0 234.3,315.5 237.1,315.6 239.9,316.3 242.7,316.5 245.5,316.9 248.2,316.2 251.0,316.7 253.8,316.4 256.6,316.7 259.4,317.1 262.1,316.7 264.9,316.9 267.7,317.4 270.5,317.4 273.3,317.1 276.0,317.5 278.8,317.8 281.6,317.1 284.4,318.0 287.2,317.9 289.9,317.7 292.7,317.6 295.5,318.4 298.3,317.9 301.1,317.7 303.8,317.8 306.6,318.6 309.4,318.4 312.2,318.6 315.0,318.6 317.7,318.4 320.5,318.9 323.3,318.4 326.1,318.6 328.9,318.9" fill="none" stroke="#66B046" stroke-width="0.8" stroke-linejoin="round"/>
<polyline points="51.1,317.3 55.0,316.0 58.5,312.0 62.8,306.6 66.0,305.6 72.4,291.7 74.6,288.5 77.8,270.3 81.0,266.0 85.3,253.2 88.0,243.8 92.0,230.0 95.9,218.9 98.9,224.9 100.9,225.5 103.9,219.9 105.9,222.9 109.5,216.9 112.9,220.9 115.5,225.9 117.8,221.9 120.8,224.9 125.8,231.8 131.8,239.8 137.0,244.0 140.0,255.5 143.0,256.5 145.6,253.0 149.0,267.5 152.0,272.5 154.0,273.0 156.9,280.0 159.9,279.0 161.9,281.0 165.9,288.0 170.0,293.1 175.3,297.1 180.5,301.0 184.5,302.3 189.7,305.6 196.3,307.6 201.5,307.6 206.8,310.9 213.4,312.2 218.6,311.5 225.2,314.4 226.0,314.5 228.8,314.2 231.6,315.1 234.3,314.7 237.1,315.3 239.9,315.7 242.7,316.0 245.5,315.8 248.2,316.1 251.0,315.7 253.8,316.2 256.6,316.3 259.4,316.8 262.1,316.6 264.9,316.9 267.7,316.6 270.5,316.4 273.3,317.1 276.0,317.1 278.8,316.8 281.6,316.6 284.4,317.1 287.2,317.1 289.9,317.5 292.7,317.4 295.5,317.4 298.3,317.5 301.1,317.4 303.8,317.1 306.6,317.2 309.4,318.1 312.2,318.0 315.0,317.5 317.7,318.2 320.5,317.9 323.3,317.5 326.1,318.3 328.9,318.1" fill="none" stroke="#4A7DBF" stroke-width="0.8" stroke-linejoin="round"/>
<polyline points="51.1,319.0 56.0,317.5 62.8,304.0 66.0,303.0 70.3,287.0 73.1,287.5 75.6,270.0 78.8,263.0 82.0,271.4 85.3,257.0 88.0,247.0 91.0,235.0 94.9,222.9 97.9,235.8 103.5,215.9 106.9,228.8 109.9,208.9 112.9,221.9 115.9,214.9 119.0,222.0 123.8,233.0 128.0,237.0 133.8,244.0 137.0,246.5 140.0,257.5 143.0,258.5 145.6,255.0 149.0,269.5 152.0,274.5 154.0,275.0 156.9,282.0 159.9,281.0 161.9,283.0 165.9,290.0 170.0,295.0 175.3,298.5 183.0,303.5 190.0,305.5 198.9,306.0 203.0,308.5 209.4,308.9 213.0,311.0 218.0,309.6 225.2,314.4 226.0,314.5 228.8,314.7 231.6,315.2 234.3,315.8 237.1,315.4 239.9,315.5 242.7,315.5 245.5,315.7 248.2,315.8 251.0,316.1 253.8,316.6 256.6,317.3 259.4,317.2 262.1,316.9 264.9,317.0 267.7,317.3 270.5,317.0 273.3,316.8 276.0,317.7 278.8,317.5 281.6,317.1 284.4,317.1 287.2,317.2 289.9,318.2 292.7,317.4 295.5,318.0 298.3,318.4 301.1,317.6 303.8,318.0 306.6,318.1 309.4,318.6 312.2,317.9 315.0,318.0 317.7,318.0 320.5,317.9 323.3,318.6 326.1,318.8 328.9,318.4" fill="none" stroke="#F0913E" stroke-width="0.8" stroke-linejoin="round"/>
<polyline points="388.2,319.4 392.0,319.8 395.7,319.4 400.0,319.6 404.2,318.4 406.4,307.7 408.5,260.0 411.3,196.9 413.5,230.0 415.3,252.0 417.5,271.4 420.7,284.2 424.8,297.0 429.9,303.4 434.1,305.1 436.3,305.6 440.6,309.8 441.0,309.9 443.8,310.0 446.6,310.7 449.3,311.3 452.1,312.5 454.9,312.3 457.7,313.0 460.5,313.3 463.2,312.8 466.0,313.4 468.8,313.0 471.6,312.2 474.4,312.4 477.1,312.8 479.9,313.0 482.7,314.1 485.5,313.9 488.3,314.7 491.0,314.9 493.8,314.2 496.6,314.5 499.4,314.7 502.2,315.0 504.9,315.0 507.7,316.3 510.5,316.3 513.3,316.7 516.1,316.8 518.8,316.7 521.6,316.1 524.4,316.7 527.2,316.3 530.0,316.7 532.7,316.4 535.5,316.8 538.3,316.9 541.1,316.7 543.9,316.7 546.6,316.7 549.4,316.5 552.2,316.1 555.0,316.9 557.8,316.4 560.5,315.9 563.3,316.4 566.1,316.4 568.9,316.2 571.7,317.0 574.4,316.2 577.2,317.1 580.0,316.7 582.8,316.4 585.6,316.6 588.3,316.8 591.1,316.5 593.9,317.2 596.7,317.1 599.5,317.5 602.2,317.4 605.0,317.3 607.8,317.6 610.6,317.6 613.4,317.3 616.1,317.2 618.9,317.2 621.7,317.6 624.5,317.7 627.3,317.7 630.0,317.7 632.8,316.9 635.6,317.3 638.4,317.0 641.2,317.6 643.9,317.6 646.7,317.6 649.5,317.9 652.3,317.3 655.1,317.9 657.8,317.8 660.6,317.4 663.4,318.2 666.2,317.3" fill="none" stroke="#D8493C" stroke-width="0.8" stroke-linejoin="round"/>
<polyline points="388.2,318.3 392.0,319.6 395.0,319.6 397.0,318.8 400.0,319.4 405.3,318.3 408.5,303.4 411.7,284.2 413.8,271.4 416.0,269.2 419.2,266.3 422.4,271.6 427.7,282.0 430.0,283.3 432.8,285.6 435.6,286.7 438.3,288.4 441.1,289.5 443.9,291.5 446.7,292.3 449.5,293.6 452.2,293.9 455.0,295.6 457.8,296.6 460.6,298.2 463.4,299.8 466.1,301.5 468.9,302.3 471.7,304.0 474.5,305.0 477.3,306.1 480.0,307.2 482.8,308.3 485.6,309.1 488.4,310.3 491.2,310.6 493.9,311.5 496.7,311.9 499.5,312.2 502.3,312.6 505.1,312.6 507.8,313.0 510.6,313.6 513.4,313.7 516.2,313.7 519.0,314.4 521.7,314.6 524.5,314.4 527.3,314.5 530.1,314.7 532.9,315.3 535.6,315.5 538.4,315.5 541.2,315.4 544.0,315.1 546.8,315.2 549.5,315.9 552.3,315.9 555.1,315.9 557.9,315.7 560.7,315.8 563.4,315.9 566.2,316.0 569.0,316.5 571.8,316.3 574.6,316.6 577.3,316.6 580.1,316.7 582.9,317.0 585.7,317.1 588.5,316.6 591.2,317.5 594.0,317.4 596.8,317.5 599.6,317.2 602.4,317.7 605.1,317.7 607.9,317.2 610.7,317.6 613.5,317.8 616.3,317.7 619.0,317.9 621.8,317.6 624.6,317.8 627.4,317.3 630.2,317.9 632.9,317.4 635.7,318.0 638.5,318.2 641.3,317.7 644.1,317.5 646.8,317.5 649.6,318.0 652.4,317.7 655.2,318.3 658.0,318.2 660.7,318.1 663.5,318.3 666.3,317.9" fill="none" stroke="#66B046" stroke-width="0.8" stroke-linejoin="round"/>
<polyline points="388.2,317.3 392.0,319.5 395.0,319.5 397.0,318.7 400.0,319.3 405.3,318.2 408.2,303.1 411.4,283.9 413.5,271.1 415.7,268.9 418.9,266.7 422.1,271.3 427.4,281.7 430.0,282.5 432.8,284.4 435.6,286.4 438.3,287.2 441.1,288.8 443.9,290.6 446.7,291.4 449.5,292.4 452.2,293.4 455.0,294.5 457.8,295.4 460.6,297.3 463.4,299.5 466.1,300.6 468.9,301.6 471.7,303.4 474.5,304.2 477.3,305.4 480.0,306.5 482.8,307.3 485.6,308.0 488.4,309.0 491.2,309.8 493.9,309.9 496.7,310.6 499.5,311.2 502.3,310.7 505.1,311.3 507.8,311.5 510.6,312.4 513.4,312.5 516.2,312.9 519.0,313.1 521.7,313.7 524.5,313.8 527.3,313.7 530.1,314.2 532.9,313.8 535.6,314.0 538.4,314.7 541.2,314.1 544.0,314.1 546.8,314.1 549.5,314.8 552.3,315.0 555.1,314.4 557.9,314.9 560.7,314.9 563.4,315.0 566.2,315.0 569.0,315.2 571.8,315.0 574.6,315.8 577.3,315.3 580.1,315.6 582.9,315.8 585.7,315.9 588.5,315.8 591.2,316.0 594.0,316.4 596.8,315.8 599.6,315.9 602.4,316.1 605.1,316.5 607.9,316.2 610.7,316.2 613.5,316.0 616.3,316.1 619.0,316.6 621.8,316.3 624.6,316.5 627.4,316.3 630.2,316.4 632.9,316.4 635.7,317.1 638.5,316.8 641.3,316.7 644.1,316.6 646.8,317.1 649.6,316.9 652.4,316.6 655.2,316.7 658.0,317.4 660.7,316.9 663.5,317.0 666.3,316.7" fill="none" stroke="#4A7DBF" stroke-width="0.8" stroke-linejoin="round"/>
<polyline points="388.2,318.7 392.0,320.0 395.0,320.0 397.0,319.2 400.0,319.8 405.3,318.7 409.1,304.7 412.3,285.5 414.4,272.7 416.6,270.5 419.8,268.3 423.0,272.9 428.3,283.3 430.0,283.5 432.8,284.9 435.6,286.2 438.3,287.8 441.1,289.0 443.9,291.0 446.7,291.8 449.5,292.8 452.2,293.8 455.0,294.6 457.8,296.5 460.6,298.3 463.4,299.7 466.1,300.5 468.9,302.7 471.7,303.6 474.5,305.0 477.3,306.1 480.0,307.1 482.8,308.5 485.6,308.8 488.4,309.3 491.2,310.8 493.9,310.7 496.7,311.0 499.5,311.5 502.3,312.3 505.1,312.1 507.8,312.2 510.6,312.8 513.4,313.1 516.2,313.3 519.0,314.5 521.7,314.5 524.5,314.1 527.3,314.4 530.1,315.2 532.9,315.1 535.6,315.0 538.4,315.2 541.2,315.7 544.0,315.1 546.8,315.6 549.5,315.1 552.3,315.6 555.1,315.5 557.9,315.7 560.7,315.8 563.4,315.9 566.2,316.4 569.0,316.0 571.8,315.8 574.6,316.6 577.3,316.8 580.1,316.8 582.9,316.4 585.7,316.5 588.5,317.0 591.2,316.4 594.0,316.5 596.8,317.0 599.6,316.8 602.4,317.1 605.1,316.9 607.9,317.6 610.7,317.2 613.5,317.1 616.3,317.1 619.0,317.1 621.8,317.6 624.6,317.7 627.4,317.7 630.2,317.9 632.9,317.6 635.7,317.5 638.5,317.5 641.3,317.3 644.1,317.6 646.8,317.7 649.6,318.1 652.4,317.9 655.2,317.5 658.0,317.9 660.7,317.8 663.5,318.2 666.3,318.3" fill="none" stroke="#F0913E" stroke-width="0.8" stroke-linejoin="round"/>
<line x1="36.50" y1="1.00" x2="36.50" y2="146.00" stroke="#2a2a2a" stroke-width="1"/>
<line x1="36.00" y1="145.50" x2="338.10" y2="145.50" stroke="#2a2a2a" stroke-width="1"/>
<line x1="33.50" y1="139.30" x2="36.50" y2="139.30" stroke="#444" stroke-width="1.0"/>
<text transform="translate(31.50,141.90) scale(0.930,1.000)" font-size="8.40" font-weight="bold" font-style="normal" text-anchor="end" fill="#000" >0.000</text>
<line x1="33.50" y1="106.40" x2="36.50" y2="106.40" stroke="#444" stroke-width="1.0"/>
<text transform="translate(31.50,109.00) scale(0.930,1.000)" font-size="8.40" font-weight="bold" font-style="normal" text-anchor="end" fill="#000" >0.005</text>
<line x1="33.50" y1="73.50" x2="36.50" y2="73.50" stroke="#444" stroke-width="1.0"/>
<text transform="translate(31.50,76.10) scale(0.930,1.000)" font-size="8.40" font-weight="bold" font-style="normal" text-anchor="end" fill="#000" >0.010</text>
<line x1="33.50" y1="40.60" x2="36.50" y2="40.60" stroke="#444" stroke-width="1.0"/>
<text transform="translate(31.50,43.20) scale(0.930,1.000)" font-size="8.40" font-weight="bold" font-style="normal" text-anchor="end" fill="#000" >0.015</text>
<line x1="33.50" y1="7.70" x2="36.50" y2="7.70" stroke="#444" stroke-width="1.0"/>
<text transform="translate(31.50,10.30) scale(0.930,1.000)" font-size="8.40" font-weight="bold" font-style="normal" text-anchor="end" fill="#000" >0.020</text>
<line x1="49.90" y1="145.50" x2="49.90" y2="148.70" stroke="#444" stroke-width="1.0"/>
<text transform="translate(50.10,155.60) scale(0.930,1.000)" font-size="8.40" font-weight="bold" font-style="normal" text-anchor="middle" fill="#000" >0</text>
<line x1="104.84" y1="145.50" x2="104.84" y2="148.70" stroke="#444" stroke-width="1.0"/>
<text transform="translate(106.40,155.60) scale(0.930,1.000)" font-size="8.40" font-weight="bold" font-style="normal" text-anchor="middle" fill="#000" >3<tspan dx="0.6">,</tspan><tspan dx="0.6">000</tspan></text>
<line x1="159.78" y1="145.50" x2="159.78" y2="148.70" stroke="#444" stroke-width="1.0"/>
<text transform="translate(163.10,155.60) scale(0.930,1.000)" font-size="8.40" font-weight="bold" font-style="normal" text-anchor="middle" fill="#000" >6<tspan dx="0.6">,</tspan><tspan dx="0.6">000</tspan></text>
<line x1="214.72" y1="145.50" x2="214.72" y2="148.70" stroke="#444" stroke-width="1.0"/>
<text transform="translate(215.60,155.60) scale(0.930,1.000)" font-size="8.40" font-weight="bold" font-style="normal" text-anchor="middle" fill="#000" >9<tspan dx="0.6">,</tspan><tspan dx="0.6">000</tspan></text>
<line x1="269.66" y1="145.50" x2="269.66" y2="148.70" stroke="#444" stroke-width="1.0"/>
<text transform="translate(272.90,155.60) scale(0.930,1.000)" font-size="8.40" font-weight="bold" font-style="normal" text-anchor="middle" fill="#000" >12<tspan dx="0.6">,</tspan><tspan dx="0.6">000</tspan></text>
<line x1="324.60" y1="145.50" x2="324.60" y2="148.70" stroke="#444" stroke-width="1.0"/>
<text transform="translate(330.30,155.60) scale(0.930,1.000)" font-size="8.40" font-weight="bold" font-style="normal" text-anchor="middle" fill="#000" >15<tspan dx="0.6">,</tspan><tspan dx="0.6">000</tspan></text>
<text x="190.00" y="166.10" font-size="8.40" font-weight="bold" font-style="normal" text-anchor="middle" fill="#000" >gene Length</text>
<text x="0" y="0" font-size="8.60" font-weight="bold" text-anchor="middle" transform="translate(6.40,63.70) rotate(-90) scale(1,0.94)">Proportion (%)</text>
<line x1="373.50" y1="1.20" x2="373.50" y2="146.00" stroke="#2a2a2a" stroke-width="1"/>
<line x1="373.00" y1="145.50" x2="675.30" y2="145.50" stroke="#2a2a2a" stroke-width="1"/>
<line x1="370.50" y1="139.50" x2="373.50" y2="139.50" stroke="#444" stroke-width="1.0"/>
<text transform="translate(369.50,142.10) scale(0.930,1.000)" font-size="8.40" font-weight="bold" font-style="normal" text-anchor="end" fill="#000" >0.000</text>
<line x1="370.50" y1="106.55" x2="373.50" y2="106.55" stroke="#444" stroke-width="1.0"/>
<text transform="translate(369.50,109.15) scale(0.930,1.000)" font-size="8.40" font-weight="bold" font-style="normal" text-anchor="end" fill="#000" >0.005</text>
<line x1="370.50" y1="73.60" x2="373.50" y2="73.60" stroke="#444" stroke-width="1.0"/>
<text transform="translate(369.50,76.20) scale(0.930,1.000)" font-size="8.40" font-weight="bold" font-style="normal" text-anchor="end" fill="#000" >0.010</text>
<line x1="370.50" y1="40.65" x2="373.50" y2="40.65" stroke="#444" stroke-width="1.0"/>
<text transform="translate(369.50,43.25) scale(0.930,1.000)" font-size="8.40" font-weight="bold" font-style="normal" text-anchor="end" fill="#000" >0.015</text>
<line x1="370.50" y1="7.70" x2="373.50" y2="7.70" stroke="#444" stroke-width="1.0"/>
<text transform="translate(369.50,10.30) scale(0.930,1.000)" font-size="8.40" font-weight="bold" font-style="normal" text-anchor="end" fill="#000" >0.020</text>
<line x1="387.50" y1="145.50" x2="387.50" y2="148.70" stroke="#444" stroke-width="1.0"/>
<text transform="translate(387.60,155.60) scale(0.930,1.000)" font-size="8.40" font-weight="bold" font-style="normal" text-anchor="middle" fill="#000" >0</text>
<line x1="442.26" y1="145.50" x2="442.26" y2="148.70" stroke="#444" stroke-width="1.0"/>
<text transform="translate(443.90,155.60) scale(0.930,1.000)" font-size="8.40" font-weight="bold" font-style="normal" text-anchor="middle" fill="#000" >30<tspan dx="0.6">,</tspan><tspan dx="0.6">000</tspan></text>
<line x1="497.02" y1="145.50" x2="497.02" y2="148.70" stroke="#444" stroke-width="1.0"/>
<text transform="translate(501.40,155.60) scale(0.930,1.000)" font-size="8.40" font-weight="bold" font-style="normal" text-anchor="middle" fill="#000" >60<tspan dx="0.6">,</tspan><tspan dx="0.6">000</tspan></text>
<line x1="551.78" y1="145.50" x2="551.78" y2="148.70" stroke="#444" stroke-width="1.0"/>
<text transform="translate(553.40,155.60) scale(0.930,1.000)" font-size="8.40" font-weight="bold" font-style="normal" text-anchor="middle" fill="#000" >90<tspan dx="0.6">,</tspan><tspan dx="0.6">000</tspan></text>
<line x1="606.54" y1="145.50" x2="606.54" y2="148.70" stroke="#444" stroke-width="1.0"/>
<text transform="translate(611.20,155.60) scale(0.930,1.000)" font-size="8.40" font-weight="bold" font-style="normal" text-anchor="middle" fill="#000" >120<tspan dx="0.6">,</tspan><tspan dx="0.6">000</tspan></text>
<line x1="661.30" y1="145.50" x2="661.30" y2="148.70" stroke="#444" stroke-width="1.0"/>
<text transform="translate(669.30,155.60) scale(0.930,1.000)" font-size="8.40" font-weight="bold" font-style="normal" text-anchor="middle" fill="#000" >150<tspan dx="0.6">,</tspan><tspan dx="0.6">000</tspan></text>
<text x="526.00" y="166.30" font-size="8.40" font-weight="bold" font-style="normal" text-anchor="middle" fill="#000" >mRNA Length</text>
<text x="0" y="0" font-size="8.60" font-weight="bold" text-anchor="middle" transform="translate(344.30,63.55) rotate(-90) scale(1,0.94)">Proportion (%)</text>
<line x1="37.50" y1="182.70" x2="37.50" y2="328.00" stroke="#2a2a2a" stroke-width="1"/>
<line x1="37.00" y1="327.50" x2="343.30" y2="327.50" stroke="#2a2a2a" stroke-width="1"/>
<line x1="34.50" y1="320.80" x2="37.50" y2="320.80" stroke="#444" stroke-width="1.0"/>
<text transform="translate(33.90,323.40) scale(0.930,1.000)" font-size="8.40" font-weight="bold" font-style="normal" text-anchor="end" fill="#000" >0.00</text>
<line x1="34.50" y1="288.08" x2="37.50" y2="288.08" stroke="#444" stroke-width="1.0"/>
<text transform="translate(33.90,290.68) scale(0.930,1.000)" font-size="8.40" font-weight="bold" font-style="normal" text-anchor="end" fill="#000" >0.01</text>
<line x1="34.50" y1="255.36" x2="37.50" y2="255.36" stroke="#444" stroke-width="1.0"/>
<text transform="translate(33.90,257.96) scale(0.930,1.000)" font-size="8.40" font-weight="bold" font-style="normal" text-anchor="end" fill="#000" >0.02</text>
<line x1="34.50" y1="222.64" x2="37.50" y2="222.64" stroke="#444" stroke-width="1.0"/>
<text transform="translate(33.90,225.24) scale(0.930,1.000)" font-size="8.40" font-weight="bold" font-style="normal" text-anchor="end" fill="#000" >0.03</text>
<line x1="34.50" y1="189.92" x2="37.50" y2="189.92" stroke="#444" stroke-width="1.0"/>
<text transform="translate(33.90,192.52) scale(0.930,1.000)" font-size="8.40" font-weight="bold" font-style="normal" text-anchor="end" fill="#000" >0.04</text>
<line x1="51.50" y1="327.50" x2="51.50" y2="330.70" stroke="#444" stroke-width="1.0"/>
<text transform="translate(51.50,337.70) scale(0.930,1.000)" font-size="8.40" font-weight="bold" font-style="normal" text-anchor="middle" fill="#000" >0</text>
<line x1="107.10" y1="327.50" x2="107.10" y2="330.70" stroke="#444" stroke-width="1.0"/>
<text transform="translate(108.50,337.70) scale(0.930,1.000)" font-size="8.40" font-weight="bold" font-style="normal" text-anchor="middle" fill="#000" >100</text>
<line x1="162.70" y1="327.50" x2="162.70" y2="330.70" stroke="#444" stroke-width="1.0"/>
<text transform="translate(163.50,337.70) scale(0.930,1.000)" font-size="8.40" font-weight="bold" font-style="normal" text-anchor="middle" fill="#000" >200</text>
<line x1="218.30" y1="327.50" x2="218.30" y2="330.70" stroke="#444" stroke-width="1.0"/>
<text transform="translate(220.50,337.70) scale(0.930,1.000)" font-size="8.40" font-weight="bold" font-style="normal" text-anchor="middle" fill="#000" >300</text>
<line x1="273.90" y1="327.50" x2="273.90" y2="330.70" stroke="#444" stroke-width="1.0"/>
<text transform="translate(274.30,337.70) scale(0.930,1.000)" font-size="8.40" font-weight="bold" font-style="normal" text-anchor="middle" fill="#000" >400</text>
<line x1="329.50" y1="327.50" x2="329.50" y2="330.70" stroke="#444" stroke-width="1.0"/>
<text transform="translate(331.80,337.70) scale(0.930,1.000)" font-size="8.40" font-weight="bold" font-style="normal" text-anchor="middle" fill="#000" >500</text>
<text x="193.00" y="348.00" font-size="8.40" font-weight="bold" font-style="normal" text-anchor="middle" fill="#000" >exon Length</text>
<text x="0" y="0" font-size="8.60" font-weight="bold" text-anchor="middle" transform="translate(13.20,245.45) rotate(-90) scale(1,0.94)">Proportion (%)</text>
<line x1="374.50" y1="182.70" x2="374.50" y2="328.00" stroke="#2a2a2a" stroke-width="1"/>
<line x1="374.00" y1="327.50" x2="681.00" y2="327.50" stroke="#2a2a2a" stroke-width="1"/>
<line x1="371.50" y1="320.80" x2="374.50" y2="320.80" stroke="#444" stroke-width="1.0"/>
<text transform="translate(371.70,323.40) scale(0.930,1.000)" font-size="8.40" font-weight="bold" font-style="normal" text-anchor="end" fill="#000" >0.00</text>
<line x1="371.50" y1="302.04" x2="374.50" y2="302.04" stroke="#444" stroke-width="1.0"/>
<text transform="translate(371.70,304.64) scale(0.930,1.000)" font-size="8.40" font-weight="bold" font-style="normal" text-anchor="end" fill="#000" >0.01</text>
<line x1="371.50" y1="283.28" x2="374.50" y2="283.28" stroke="#444" stroke-width="1.0"/>
<text transform="translate(371.70,285.88) scale(0.930,1.000)" font-size="8.40" font-weight="bold" font-style="normal" text-anchor="end" fill="#000" >0.02</text>
<line x1="371.50" y1="264.52" x2="374.50" y2="264.52" stroke="#444" stroke-width="1.0"/>
<text transform="translate(371.70,267.12) scale(0.930,1.000)" font-size="8.40" font-weight="bold" font-style="normal" text-anchor="end" fill="#000" >0.03</text>
<line x1="371.50" y1="245.76" x2="374.50" y2="245.76" stroke="#444" stroke-width="1.0"/>
<text transform="translate(371.70,248.36) scale(0.930,1.000)" font-size="8.40" font-weight="bold" font-style="normal" text-anchor="end" fill="#000" >0.04</text>
<line x1="371.50" y1="227.00" x2="374.50" y2="227.00" stroke="#444" stroke-width="1.0"/>
<text transform="translate(371.70,229.60) scale(0.930,1.000)" font-size="8.40" font-weight="bold" font-style="normal" text-anchor="end" fill="#000" >0.05</text>
<line x1="371.50" y1="208.24" x2="374.50" y2="208.24" stroke="#444" stroke-width="1.0"/>
<text transform="translate(371.70,210.84) scale(0.930,1.000)" font-size="8.40" font-weight="bold" font-style="normal" text-anchor="end" fill="#000" >0.06</text>
<line x1="371.50" y1="189.48" x2="374.50" y2="189.48" stroke="#444" stroke-width="1.0"/>
<text transform="translate(371.70,192.08) scale(0.930,1.000)" font-size="8.40" font-weight="bold" font-style="normal" text-anchor="end" fill="#000" >0.07</text>
<line x1="388.60" y1="327.50" x2="388.60" y2="330.70" stroke="#444" stroke-width="1.0"/>
<text transform="translate(388.90,337.70) scale(0.930,1.000)" font-size="8.40" font-weight="bold" font-style="normal" text-anchor="middle" fill="#000" >0</text>
<line x1="444.30" y1="327.50" x2="444.30" y2="330.70" stroke="#444" stroke-width="1.0"/>
<text transform="translate(445.50,337.70) scale(0.930,1.000)" font-size="8.40" font-weight="bold" font-style="normal" text-anchor="middle" fill="#000" >200</text>
<line x1="500.00" y1="327.50" x2="500.00" y2="330.70" stroke="#444" stroke-width="1.0"/>
<text transform="translate(500.60,337.70) scale(0.930,1.000)" font-size="8.40" font-weight="bold" font-style="normal" text-anchor="middle" fill="#000" >400</text>
<line x1="555.70" y1="327.50" x2="555.70" y2="330.70" stroke="#444" stroke-width="1.0"/>
<text transform="translate(557.70,337.70) scale(0.930,1.000)" font-size="8.40" font-weight="bold" font-style="normal" text-anchor="middle" fill="#000" >600</text>
<line x1="611.40" y1="327.50" x2="611.40" y2="330.70" stroke="#444" stroke-width="1.0"/>
<text transform="translate(612.10,337.70) scale(0.930,1.000)" font-size="8.40" font-weight="bold" font-style="normal" text-anchor="middle" fill="#000" >800</text>
<line x1="667.10" y1="327.50" x2="667.10" y2="330.70" stroke="#444" stroke-width="1.0"/>
<text transform="translate(669.30,337.70) scale(0.930,1.000)" font-size="8.40" font-weight="bold" font-style="normal" text-anchor="middle" fill="#000" >1<tspan dx="0.6">,</tspan><tspan dx="0.6">000</tspan></text>
<text x="529.90" y="347.90" font-size="8.40" font-weight="bold" font-style="normal" text-anchor="middle" fill="#000" >intron Length</text>
<text x="0" y="0" font-size="8.60" font-weight="bold" text-anchor="middle" transform="translate(350.70,245.40) rotate(-90) scale(1,0.94)">Proportion (%)</text>
<text transform="translate(101.90,7.40) scale(0.965,1.000)" font-size="8.70" font-weight="normal" font-style="normal" text-anchor="start" fill="#000" >Species</text>
<line x1="139.00" y1="5.60" x2="142.60" y2="5.60" stroke="#D8493C" stroke-width="0.9" stroke-opacity="0.75"/>
<text transform="translate(144.10,7.60) scale(0.900,1.000)" font-size="7.50" font-weight="bold" font-style="italic" text-anchor="start" fill="#000" >D.rerio</text>
<line x1="175.20" y1="5.60" x2="178.80" y2="5.60" stroke="#66B046" stroke-width="0.9" stroke-opacity="0.75"/>
<text transform="translate(179.60,7.60) scale(0.900,1.000)" font-size="7.50" font-weight="bold" font-style="italic" text-anchor="start" fill="#000" >O.mykiss</text>
<line x1="216.40" y1="5.60" x2="220.00" y2="5.60" stroke="#4A7DBF" stroke-width="0.9" stroke-opacity="0.75"/>
<text transform="translate(222.50,7.60) scale(0.900,1.000)" font-size="7.50" font-weight="bold" font-style="italic" text-anchor="start" fill="#000" >S.malma</text>
<line x1="257.20" y1="5.60" x2="260.80" y2="5.60" stroke="#F0913E" stroke-width="0.9" stroke-opacity="0.75"/>
<text transform="translate(263.30,7.60) scale(0.900,1.000)" font-size="7.50" font-weight="bold" font-style="italic" text-anchor="start" fill="#000" >S.salar</text>
<text transform="translate(449.90,7.40) scale(0.965,1.000)" font-size="8.70" font-weight="normal" font-style="normal" text-anchor="start" fill="#000" >Species</text>
<line x1="487.00" y1="5.60" x2="490.60" y2="5.60" stroke="#D8493C" stroke-width="0.9" stroke-opacity="0.75"/>
<text transform="translate(492.10,7.60) scale(0.900,1.000)" font-size="7.50" font-weight="bold" font-style="italic" text-anchor="start" fill="#000" >D.rerio</text>
<line x1="523.20" y1="5.60" x2="526.80" y2="5.60" stroke="#66B046" stroke-width="0.9" stroke-opacity="0.75"/>
<text transform="translate(527.60,7.60) scale(0.900,1.000)" font-size="7.50" font-weight="bold" font-style="italic" text-anchor="start" fill="#000" >O.mykiss</text>
<line x1="564.40" y1="5.60" x2="568.00" y2="5.60" stroke="#4A7DBF" stroke-width="0.9" stroke-opacity="0.75"/>
<text transform="translate(570.50,7.60) scale(0.900,1.000)" font-size="7.50" font-weight="bold" font-style="italic" text-anchor="start" fill="#000" >S.malma</text>
<line x1="605.20" y1="5.60" x2="608.80" y2="5.60" stroke="#F0913E" stroke-width="0.9" stroke-opacity="0.75"/>
<text transform="translate(611.30,7.60) scale(0.900,1.000)" font-size="7.50" font-weight="bold" font-style="italic" text-anchor="start" fill="#000" >S.salar</text>
<text transform="translate(106.40,188.70) scale(0.965,1.000)" font-size="8.70" font-weight="normal" font-style="normal" text-anchor="start" fill="#000" >Species</text>
<line x1="143.50" y1="186.90" x2="147.10" y2="186.90" stroke="#D8493C" stroke-width="0.9" stroke-opacity="0.75"/>
<text transform="translate(148.60,188.90) scale(0.900,1.000)" font-size="7.50" font-weight="bold" font-style="italic" text-anchor="start" fill="#000" >D.rerio</text>
<line x1="179.70" y1="186.90" x2="183.30" y2="186.90" stroke="#66B046" stroke-width="0.9" stroke-opacity="0.75"/>
<text transform="translate(184.10,188.90) scale(0.900,1.000)" font-size="7.50" font-weight="bold" font-style="italic" text-anchor="start" fill="#000" >O.mykiss</text>
<line x1="220.90" y1="186.90" x2="224.50" y2="186.90" stroke="#4A7DBF" stroke-width="0.9" stroke-opacity="0.75"/>
<text transform="translate(227.00,188.90) scale(0.900,1.000)" font-size="7.50" font-weight="bold" font-style="italic" text-anchor="start" fill="#000" >S.malma</text>
<line x1="261.70" y1="186.90" x2="265.30" y2="186.90" stroke="#F0913E" stroke-width="0.9" stroke-opacity="0.75"/>
<text transform="translate(267.80,188.90) scale(0.900,1.000)" font-size="7.50" font-weight="bold" font-style="italic" text-anchor="start" fill="#000" >S.salar</text>
<text transform="translate(451.10,189.80) scale(0.965,1.000)" font-size="8.70" font-weight="normal" font-style="normal" text-anchor="start" fill="#000" >Species</text>
<line x1="488.20" y1="188.00" x2="491.80" y2="188.00" stroke="#D8493C" stroke-width="0.9" stroke-opacity="0.75"/>
<text transform="translate(493.30,190.00) scale(0.900,1.000)" font-size="7.50" font-weight="bold" font-style="italic" text-anchor="start" fill="#000" >D.rerio</text>
<line x1="524.40" y1="188.00" x2="528.00" y2="188.00" stroke="#66B046" stroke-width="0.9" stroke-opacity="0.75"/>
<text transform="translate(528.80,190.00) scale(0.900,1.000)" font-size="7.50" font-weight="bold" font-style="italic" text-anchor="start" fill="#000" >O.mykiss</text>
<line x1="565.60" y1="188.00" x2="569.20" y2="188.00" stroke="#4A7DBF" stroke-width="0.9" stroke-opacity="0.75"/>
<text transform="translate(571.70,190.00) scale(0.900,1.000)" font-size="7.50" font-weight="bold" font-style="italic" text-anchor="start" fill="#000" >S.malma</text>
<line x1="606.40" y1="188.00" x2="610.00" y2="188.00" stroke="#F0913E" stroke-width="0.9" stroke-opacity="0.75"/>
<text transform="translate(612.50,190.00) scale(0.900,1.000)" font-size="7.50" font-weight="bold" font-style="italic" text-anchor="start" fill="#000" >S.salar</text>
</svg></body></html>
